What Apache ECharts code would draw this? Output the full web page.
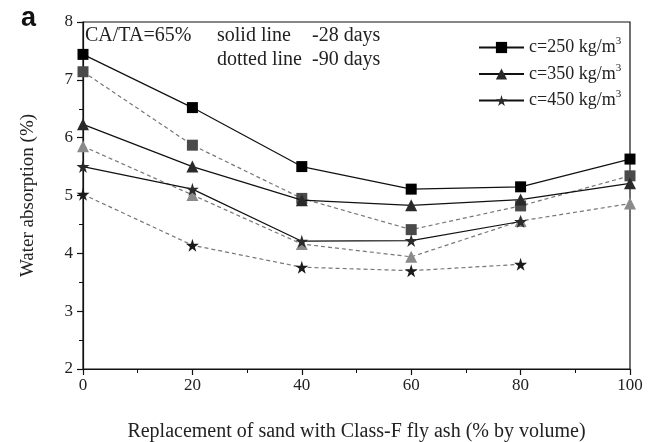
<!DOCTYPE html>
<html>
<head>
<meta charset="utf-8">
<script src="https://cdn.jsdelivr.net/npm/echarts@6/dist/echarts.min.js"></script>
<style>html,body{margin:0;padding:0;background:#fff}#c{width:648px;height:442px}</style>
</head>
<body>
<div id="c"></div>
<script>
var xValues = [0, 20, 40, 60, 80, 100];
var c250_28 = [7.44, 6.52, 5.50, 5.11, 5.15, 5.63];
var c250_90 = [7.14, 5.87, 4.95, 4.41, 4.82, 5.34];
var c350_28 = [6.23, 5.50, 4.92, 4.83, 4.93, 5.21];
var c350_90 = [5.85, 5.01, 4.16, 3.94, 4.56, 4.86];
var c450_28 = [5.50, 5.11, 4.21, 4.22, 4.55, null];
var c450_90 = [5.02, 4.14, 3.76, 3.70, 3.81, null];
var legendNames = ['c=250 kg/m3', 'c=350 kg/m3', 'c=450 kg/m3'];
var yTicks = [2, 3, 4, 5, 6, 7, 8];
var xTicks = [0, 20, 40, 60, 80, 100];

var STAR = 'path://M50,0 L61,35 L98,35 L68,57 L79,91 L50,70 L21,91 L32,57 L2,35 L39,35 Z';
var FONT = '"Liberation Serif", "DejaVu Serif", serif';

function pairs(vals) {
  return xValues.map(function (x, i) { return [x, vals[i]]; }).filter(function (p) { return p[1] !== null; });
}
function solid(name, vals, symbol, size, color) {
  return {
    name: name, type: 'line', data: pairs(vals), symbol: symbol, symbolSize: size,
    lineStyle: { color: '#111', width: 1.2, type: 'solid' },
    itemStyle: { color: color }, z: 3
  };
}
function dotted(name, vals, symbol, size, color) {
  return {
    name: name, type: 'line', data: pairs(vals), symbol: symbol, symbolSize: size,
    lineStyle: { color: '#777', width: 1.2, type: [4, 3] },
    itemStyle: { color: color }, z: 2
  };
}

var chart = echarts.init(document.getElementById('c'));
chart.setOption({
  animation: false,
  backgroundColor: '#fff',
  grid: { left: 83, right: 18, top: 22, bottom: 73, containLabel: false, outerBoundsMode: 'none', show: true, borderColor: '#111', borderWidth: 1.2 },
  xAxis: {
    type: 'value', min: xTicks[0], max: xTicks[xTicks.length - 1], interval: 20,
    name: 'Replacement of sand with Class-F fly ash (% by volume)',
    nameLocation: 'middle', nameGap: 53,
    nameTextStyle: { fontFamily: FONT, fontSize: 20, color: '#222' },
    axisLine: { lineStyle: { color: '#111', width: 1.2 } },
    axisTick: { inside: false, length: 6, lineStyle: { color: '#111', width: 1.2 } },
    minorTick: { show: true, splitNumber: 2, length: 4, lineStyle: { color: '#111', width: 1 } },
    splitLine: { show: false },
    axisLabel: { fontFamily: FONT, fontSize: 17, color: '#222', margin: 8 }
  },
  yAxis: {
    type: 'value', min: yTicks[0], max: yTicks[yTicks.length - 1], interval: 1,
    name: 'Water absorption (%)',
    nameLocation: 'middle', nameGap: 45,
    nameTextStyle: { fontFamily: FONT, fontSize: 19, color: '#222' },
    axisLine: { show: true, lineStyle: { color: '#111', width: 1.2 } },
    axisTick: { show: true, inside: false, length: 6, lineStyle: { color: '#111', width: 1.2 } },
    minorTick: { show: true, splitNumber: 2, length: 4, lineStyle: { color: '#111', width: 1 } },
    splitLine: { show: false },
    axisLabel: { fontFamily: FONT, fontSize: 17, color: '#222', margin: 10 }
  },
  legend: {
    data: legendNames,
    orient: 'vertical', left: 473, top: 31,
    itemWidth: 45, itemHeight: 14, itemGap: 6,
    formatter: function (n) { return '{t|' + n.slice(0, -1) + '}{s|3}'; },
    textStyle: {
      fontFamily: FONT, fontSize: 18, color: '#222',
      rich: {
        t: { fontFamily: FONT, fontSize: 18, color: '#222' },
        s: { fontFamily: FONT, fontSize: 11, color: '#222', verticalAlign: 'top', padding: [0, 0, 12, 0] }
      }
    }
  },
  graphic: [
    { type: 'text', left: 21, top: 5, style: { text: 'a', font: 'bold 27px "Liberation Sans", Arial, sans-serif', fill: '#111' } },
    { type: 'text', left: 85, top: 26, style: { text: 'CA/TA=65%', font: '20px ' + FONT, fill: '#222' } },
    { type: 'text', left: 217, top: 26, style: { text: 'solid line', font: '20px ' + FONT, fill: '#222' } },
    { type: 'text', left: 312, top: 26, style: { text: '-28 days', font: '20px ' + FONT, fill: '#222' } },
    { type: 'text', left: 217, top: 50, style: { text: 'dotted line', font: '20px ' + FONT, fill: '#222' } },
    { type: 'text', left: 312, top: 50, style: { text: '-90 days', font: '20px ' + FONT, fill: '#222' } }
  ],
  series: [
    dotted('c=250 90d', c250_90, 'rect', 11, '#4a4a4a'),
    dotted('c=350 90d', c350_90, 'triangle', 12, '#8a8a8a'),
    dotted('c=450 90d', c450_90, STAR, 13, '#1a1a1a'),
    solid(legendNames[0], c250_28, 'rect', 11, '#000'),
    solid(legendNames[1], c350_28, 'triangle', 12, '#2a2a2a'),
    solid(legendNames[2], c450_28, STAR, 13, '#2a2a2a')
  ]
});
</script>
</body>
</html>
